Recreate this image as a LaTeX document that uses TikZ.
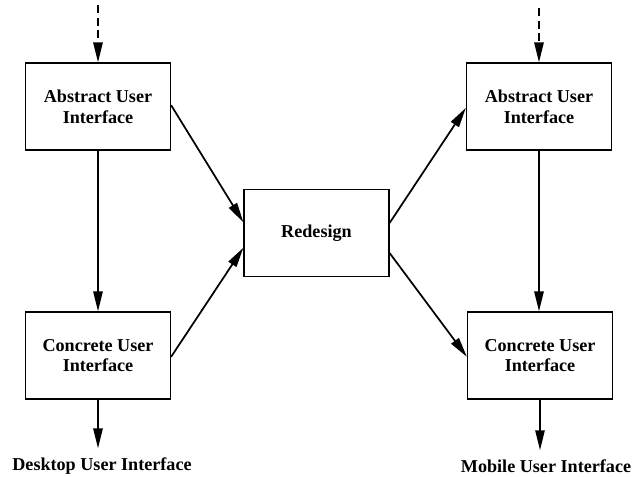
\documentclass[tikz,border=0pt]{standalone}
\usepackage{fontspec}
\setmainfont{Liberation Serif}
\usetikzlibrary{arrows.meta,calc}
\begin{document}
\begin{tikzpicture}[x=0.75pt,y=-0.75pt,
  box/.style={draw,line width=0.9pt,minimum width=108.75pt,minimum height=65.25pt,inner sep=0pt,
    align=center,font=\fontsize{13.6}{15.5}\selectfont\bfseries},
  lbl/.style={font=\fontsize{13.6}{15.5}\selectfont\bfseries,inner sep=0pt},
  arr/.style={line width=1.3pt,-{Triangle[length=15pt,width=7pt]}},
  darr/.style={arr,dash pattern=on 6pt off 3.5pt}]
\useasboundingbox (0,0) rectangle (635,477);
\node[box] (la) at (98,106.5) {Abstract User\\Interface};
\node[box] (lc) at (98,355.5) {Concrete User\\Interface};
\node[box] (rd) at (316.5,233) {Redesign};
\node[box] (ra) at (539,106.5) {Abstract User\\Interface};
\node[box] (rc) at (540,355.5) {Concrete User\\Interface};
\node[lbl] (dl) at (102,466) {Desktop User Interface};
\node[lbl] (ml) at (546,466) {Mobile User Interface};
\coordinate (ls) at (98,5);
\coordinate (rs) at (539,8);
\draw[darr] (ls) -- (la.north);
\draw[darr] (rs) -- (rs |- ra.north);
\draw[arr] (la) -- (lc);
\draw[arr] (ra.south) -- (ra.south |- rc.north);
\draw[arr] (lc.south) -- (lc.south |- {$(dl.north)+(0,-9)$});
\draw[arr] (rc.south) -- (rc.south |- {$(ml.north)+(0,-9)$});
\draw[arr] ([yshift=1pt]la.east) -- ([yshift=8pt]rd.west);
\draw[arr] ([yshift=-1pt]lc.east) -- ([yshift=-11pt]rd.west);
\draw[arr] ([yshift=7.5pt]rd.east) -- ([yshift=-1pt]ra.west);
\draw[arr] ([yshift=-15pt]rd.east) -- ([yshift=-1pt]rc.west);
\end{tikzpicture}
\end{document}
